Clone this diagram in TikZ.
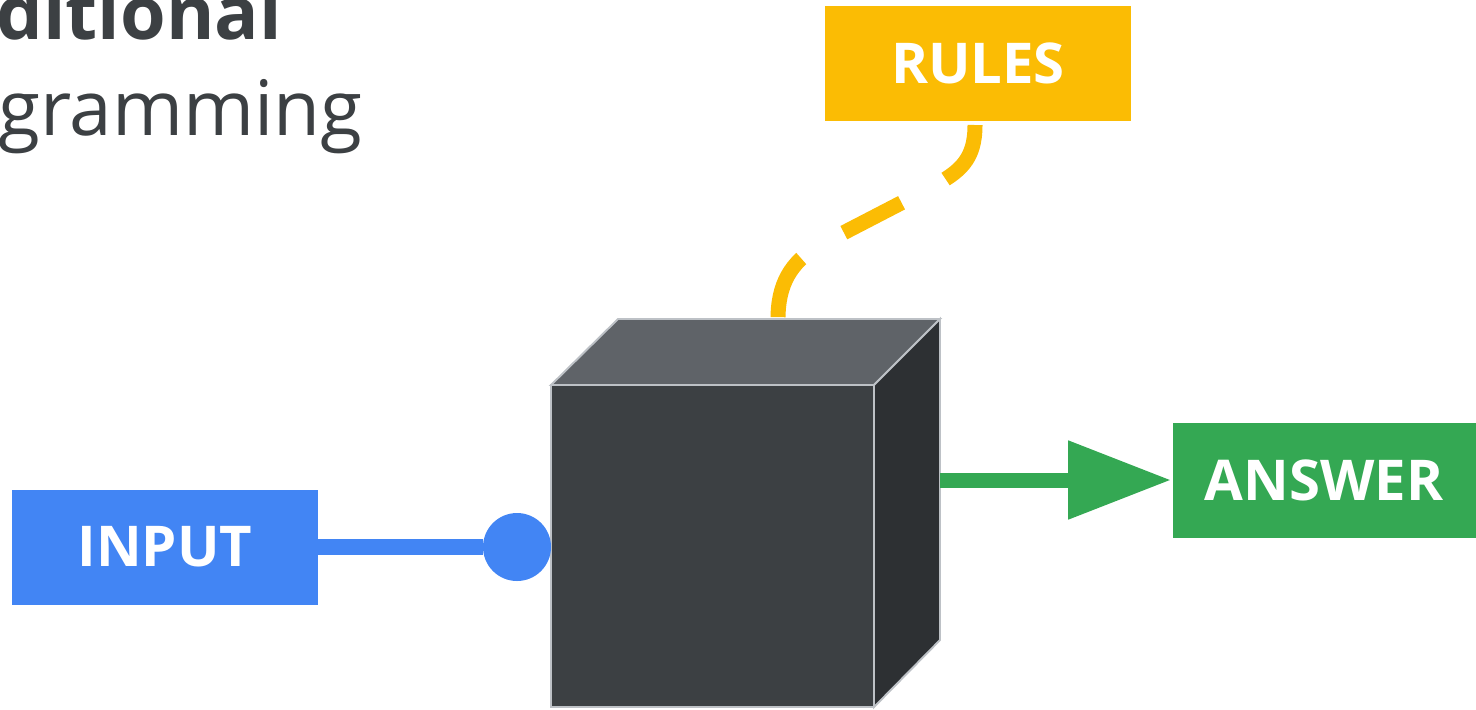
\documentclass[tikz,border=0pt]{standalone}
\usepackage{fontspec}
\setmainfont{Open Sans}
\usetikzlibrary{arrows.meta,positioning}

\definecolor{gblue}{HTML}{4285F4}
\definecolor{gyellow}{HTML}{FBBC04}
\definecolor{ggreen}{HTML}{34A853}
\definecolor{ggrey}{HTML}{3C4043}
\definecolor{gtop}{HTML}{5F6368}
\definecolor{gside}{HTML}{2D3033}
\definecolor{gedge}{HTML}{BDC1C6}

\begin{document}
\begin{tikzpicture}[x=0.2mm, y=-0.2mm,
    label box/.style={fill=#1, text=white, minimum width=6.12cm, minimum height=2.3cm,
      inner sep=0pt, font=\fontsize{32}{38}\selectfont\bfseries},
    face/.style={fill=#1, draw=gedge, line width=1.1pt, line join=miter},
    title/.style={text=ggrey, inner sep=0pt, anchor=base east, font=\fontsize{43.5}{50}\selectfont}]
  \useasboundingbox (0,0) rectangle (1476,709);

  % heading, cut off at the left
  \node[title, font=\fontsize{42}{50}\selectfont\bfseries] at (282,39) (head1) {ditional};
  \node[title] at (363,135) (head2) {gramming};

  % boxes
  \node[label box=gblue] at (165,547) (input) {INPUT};
  \node[label box=gyellow] at (978,63) (rules) {RULES};
  \node[label box=ggreen, minimum width=6.06cm] at (1324,480) (answer) {ANSWER};

  % the rules come in from above
  \coordinate (rulesout) at (975,125);
  \coordinate (cubetop) at (778,319);
  \draw [gyellow, line width=0.3cm, dash pattern=on 1.3cm off 1cm]
    (rulesout) .. controls (975,160) and (960,172) .. (930,188)
    -- (820,245) .. controls (790,262) and (778,285) .. (cubetop);

  % the box
  \draw [face=gtop] (551,385) -- (618,319) -- (940,319) -- (874,385) -- cycle;
  \draw [face=gside] (874,385) -- (940,319) -- (940,640) -- (874,707) -- cycle;
  \draw [face=ggrey] (551,385) rectangle (874,707);

  % input side
  \node[circle, fill=gblue, minimum size=1.36cm, inner sep=0pt] at (517,547) (dot) {};
  \draw [gblue, line width=0.32cm] (input.east) -- (dot);

  % answer side
  \coordinate (cubeout) at (940,480);
  \draw [ggreen, line width=0.3cm, -{Triangle[length=2.06cm, width=1.5cm]},
    shorten >=0.02cm] (cubeout) -- (answer.west);
\end{tikzpicture}
\end{document}
